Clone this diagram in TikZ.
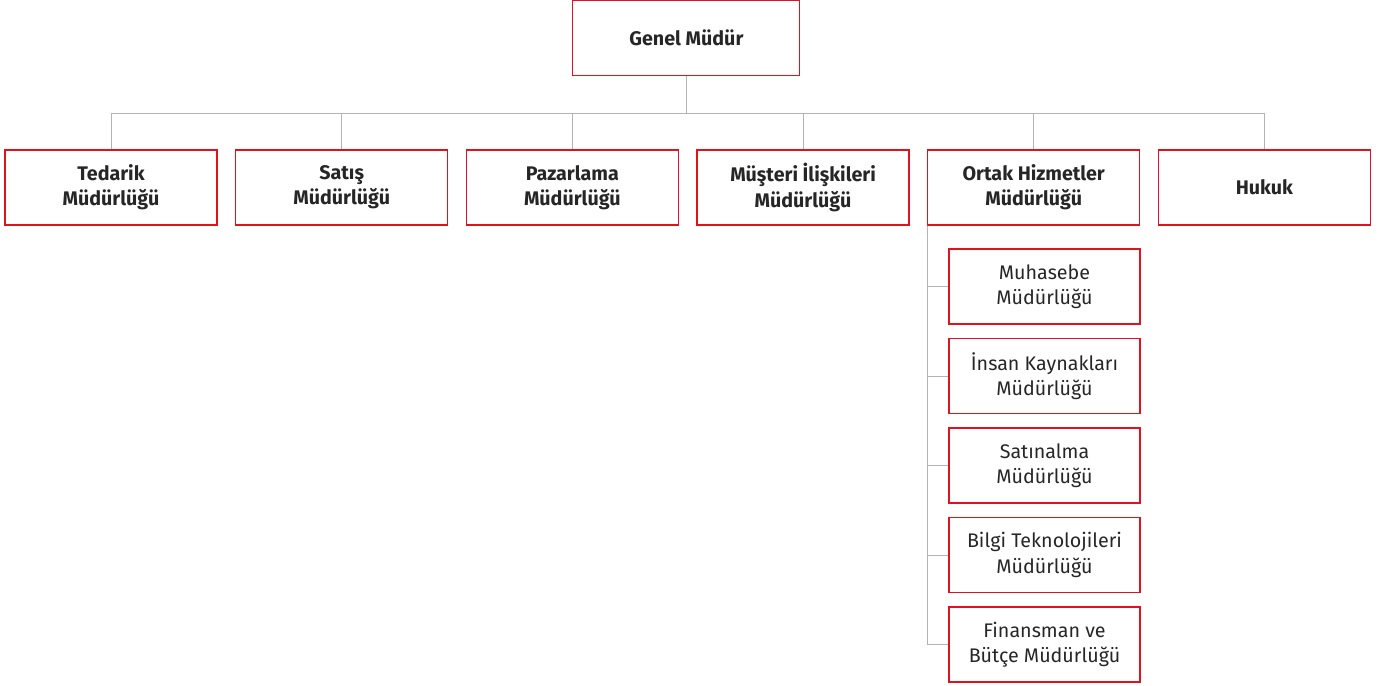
\documentclass[tikz,border=0pt]{standalone}
\usepackage{fontspec}
\setmainfont{Fira Sans}
\usepackage{tikz}
\usetikzlibrary{positioning}

\definecolor{kirmizi}{HTML}{E3101E}
\definecolor{gri}{HTML}{B4B4B4}
\definecolor{yazi}{HTML}{262626}

\tikzset{
	mainbox/.style={draw=kirmizi, line width=0.8pt, minimum width=5.3cm, minimum height=1.875cm, align=center, text=yazi, font=\fontsize{14}{18}\selectfont\bfseries},
	subbox/.style={draw=kirmizi, line width=0.8pt, minimum width=4.775cm, minimum height=1.875cm, align=center, text=yazi, font=\fontsize{14}{18}\selectfont},
	hat/.style={draw=gri, line width=0.7pt}
}

\begin{document}
\begin{tikzpicture}
		\useasboundingbox (0,0) rectangle (34.6,-17.15);
		\coordinate (bus) at (0,-2.825);
		\node[mainbox, minimum width=5.675cm] (genel) at (17.16,-0.95) {Genel Müdür};
		% mudurlukler
		\foreach \ad/\yazi [count=\i from 0] in {tedarik/Tedarik\\Müdürlüğü, satis/Satış\\Müdürlüğü, pazarlama/Pazarlama\\Müdürlüğü, musteri/Müşteri İlişkileri\\Müdürlüğü, ortak/Ortak Hizmetler\\Müdürlüğü, hukuk/Hukuk}
		{
			\node[mainbox] (\ad) at (2.775+5.767*\i,-4.6875) {\yazi};
			\draw[hat] (genel.south) -- (genel.south |- bus) -| (\ad.north);
		}
		% ortak hizmetler altindakiler
		\foreach \ad/\yazi [count=\i from 0] in {muhasebe/Muhasebe\\Müdürlüğü, insan/İnsan Kaynakları\\Müdürlüğü, satinalma/Satınalma\\Müdürlüğü, bilgi/Bilgi Teknolojileri\\Müdürlüğü, finans/Finansman ve\\Bütçe Müdürlüğü}
		{
			\node[subbox] (\ad) at (26.1125,-7.1625-2.2375*\i) {\yazi};
			\draw[hat] (ortak.south west) |- (\ad.west);
		}
	\end{tikzpicture}
\end{document}
